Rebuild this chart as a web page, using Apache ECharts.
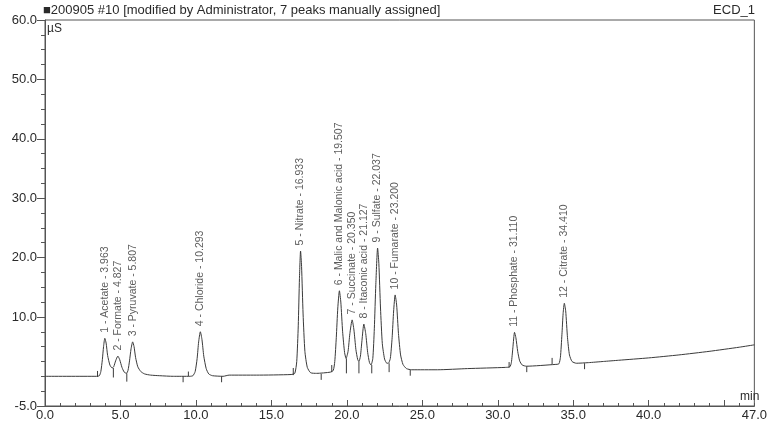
<!DOCTYPE html>
<html>
<head>
<meta charset="utf-8">
<title>ECD_1 chromatogram</title>
<script src="https://cdn.jsdelivr.net/npm/echarts@6/dist/echarts.min.js"></script>
<style>
  html, body { margin: 0; padding: 0; background: #fff; }
  #chart { width: 770px; height: 422px; }
</style>
</head>
<body>
<div id="chart"></div>
<script>
// Peak table: assigned components, retention times (min) and apex heights (µS)
const peakNames = ['Acetate', 'Formate', 'Pyruvate', 'Chloride', 'Nitrate',
  'Malic and Malonic acid', 'Succinate', 'Itaconic acid', 'Sulfate', 'Fumarate',
  'Phosphate', 'Citrate'];
const peakTimes = [3.963, 4.827, 5.807, 10.293, 16.933, 19.507, 20.350, 21.127,
  22.037, 23.200, 31.110, 34.410];
const peakHeights = [6.4, 3.4, 5.8, 7.5, 21.1, 14.4, 9.5, 8.8, 21.6, 13.7, 7.4, 12.3];

// Detector signal [time (min), conductivity (µS)], apex points come from the peak table
const tracePoints = [
  [0, 0], [3.4, 0],
  [3.6, 0.1], [3.7, 0.8], [3.8, 2.8], [3.88, 5.0], [4.05, 5.6], [4.15, 3.5], [4.3, 1.9], [4.45, 1.4],
  [4.55, 1.6], [4.68, 2.6], [4.95, 2.8], [5.1, 1.5], [5.25, 0.7], [5.4, 0.5],
  [5.5, 1.0], [5.6, 2.6], [5.7, 4.6], [5.9, 5.0], [6.0, 3.2], [6.15, 1.6], [6.35, 0.8], [6.6, 0.4],
  [7.0, 0.2], [7.6, 0.1], [8.5, 0], [9.6, 0],
  [9.8, 0.1], [9.95, 0.8], [10.08, 3.0], [10.18, 5.8], [10.4, 6.2], [10.52, 3.4], [10.68, 1.3],
  [10.85, 0.4], [11.1, 0.1], [11.8, 0], [12.2, 0.2], [14, 0.2], [16.3, 0.3],
  [16.55, 0.5], [16.68, 2.5], [16.78, 8.5], [16.86, 16.5], [17.0, 18.5], [17.1, 10.5], [17.22, 4.2],
  [17.38, 1.5], [17.6, 0.6], [18, 0.5], [18.9, 0.7],
  [19.1, 1.0], [19.2, 2.5], [19.3, 6.5], [19.4, 11.5], [19.6, 12.5], [19.72, 7.5], [19.85, 4.0], [19.95, 3.0],
  [20.08, 4.2], [20.2, 7.2], [20.47, 7.8], [20.6, 4.5], [20.72, 2.8], [20.8, 2.5],
  [20.9, 3.4], [21.0, 6.0], [21.25, 7.2], [21.38, 4.0], [21.5, 2.3], [21.6, 1.9],
  [21.72, 3.0], [21.82, 8.0], [21.92, 15.5], [22.12, 19.0], [22.23, 11.5], [22.35, 5.5], [22.5, 2.9],
  [22.65, 2.2], [22.75, 2.2],
  [22.88, 3.0], [23.0, 6.5], [23.1, 11.0], [23.3, 12.0], [23.42, 7.2], [23.56, 3.6], [23.72, 2.0],
  [23.95, 1.3], [24.3, 1.1], [26, 1.1], [28, 1.3], [30.5, 1.5],
  [30.8, 1.6], [30.9, 2.3], [31.0, 4.8], [31.2, 6.5], [31.32, 4.2], [31.45, 2.6], [31.62, 1.9],
  [31.9, 1.7], [33.8, 2.0],
  [34.05, 2.1], [34.15, 3.2], [34.25, 7.0], [34.33, 10.6], [34.5, 11.0], [34.62, 6.5], [34.75, 3.6],
  [34.92, 2.5], [35.2, 2.2], [36, 2.3], [37, 2.5], [38, 2.7], [40, 3.1], [42, 3.6], [44, 4.2],
  [46, 4.9], [47, 5.3]
];

// Integration delimiters: [time, from µS, to µS]
const delimiters = [
  [3.48, 0.9, -0.1], [4.53, 1.4, -0.2], [5.42, 0.5, -0.9], [9.15, 0, -1.0], [9.5, 0.8, 0],
  [11.7, 0, -1.0], [16.45, 1.4, 0.2], [18.3, 0.4, -0.6], [19.0, 1.9, 0.7], [19.97, 3.0, 0.5],
  [20.8, 2.5, 0.5], [21.65, 1.9, 0.5], [22.8, 2.2, 0.7], [24.2, 1.1, 0.1], [30.75, 2.4, 1.5],
  [31.92, 1.7, 0.7], [33.6, 3.1, 2.0], [35.75, 2.2, 1.2]
];

// Axis tick labels
const xLabels = [0, 5, 10, 15, 20, 25, 30, 35, 40, 47];
const yLabels = [-5, 10, 20, 30, 40, 50, 60];

const FONT = '"Liberation Sans", Arial, sans-serif';
const INK = '#2a2a2a';

const apexes = peakTimes.map((t, i) => [t, peakHeights[i]]);
const trace = tracePoints.concat(apexes).sort((a, b) => a[0] - b[0]);

const range = (a, b, step) => {
  const out = [];
  for (let v = a; v <= b + 1e-9; v += step) out.push(+v.toFixed(3));
  return out;
};

const chart = echarts.init(document.getElementById('chart'), null, { renderer: 'canvas' });

chart.setOption({
  animation: false,
  backgroundColor: '#fff',
  textStyle: { fontFamily: FONT },
  title: [
    { text: '■200905 #10 [modified by Administrator, 7 peaks manually assigned]',
      left: 43, top: 4, padding: 0,
      textStyle: { fontSize: 13, fontWeight: 'normal', color: INK, fontFamily: FONT } },
    { text: 'ECD_1', right: 15, top: 4, padding: 0,
      textStyle: { fontSize: 13, fontWeight: 'normal', color: INK, fontFamily: FONT } },
    { text: 'µS', left: 47, top: 23, padding: 0,
      textStyle: { fontSize: 12, fontWeight: 'normal', color: INK, fontFamily: FONT } },
    { text: 'min', left: 740, top: 391, padding: 0,
      textStyle: { fontSize: 12, fontWeight: 'normal', color: INK, fontFamily: FONT } }
  ],
  grid: {
    left: 45, right: 10, top: 20, bottom: 16,
    show: true, borderColor: '#555', borderWidth: 1, backgroundColor: 'transparent'
  },
  xAxis: [
    {
      type: 'value', min: 0, max: 47, position: 'bottom',
      axisLine: { show: true, onZero: false, lineStyle: { color: '#555', width: 1 } },
      axisTick: { show: true, inside: true, length: 6, customValues: range(0, 45, 5),
        lineStyle: { color: '#555' } },
      axisLabel: { show: true, margin: 3, fontSize: 13, color: INK, fontFamily: FONT,
        customValues: xLabels, formatter: v => v.toFixed(1) },
      splitLine: { show: false }
    },
    {
      type: 'value', min: 0, max: 47, position: 'bottom',
      axisLine: { show: false, onZero: false },
      axisTick: { show: true, inside: true, length: 3, customValues: range(0, 47, 1),
        lineStyle: { color: '#555' } },
      axisLabel: { show: false },
      splitLine: { show: false }
    }
  ],
  yAxis: [
    {
      type: 'value', min: -5, max: 60, position: 'left',
      axisLine: { show: true, onZero: false, lineStyle: { color: '#555', width: 1 } },
      axisTick: { show: true, inside: false, length: 8, customValues: yLabels,
        lineStyle: { color: '#555' } },
      axisLabel: { show: true, margin: 8, fontSize: 13, color: INK, fontFamily: FONT,
        customValues: yLabels, formatter: v => v.toFixed(1) },
      splitLine: { show: false }
    },
    {
      type: 'value', min: -5, max: 60, position: 'left',
      axisLine: { show: false, onZero: false },
      axisTick: { show: true, inside: false, length: 4, customValues: range(-5, 60, 2.5),
        lineStyle: { color: '#555' } },
      axisLabel: { show: false },
      splitLine: { show: false }
    }
  ],
  series: [
    {
      name: 'ECD_1',
      type: 'line',
      data: trace,
      smooth: 0.2,
      symbol: 'none',
      clip: false,
      lineStyle: { color: '#3a3a3a', width: 1 },
      z: 3
    },
    {
      name: 'delimiters',
      type: 'custom',
      data: delimiters,
      encode: { x: 0, y: [1, 2] },
      renderItem: (params, api) => {
        const p1 = api.coord([api.value(0), api.value(1)]);
        const p2 = api.coord([api.value(0), api.value(2)]);
        return {
          type: 'line',
          shape: { x1: p1[0], y1: p1[1], x2: p2[0], y2: p2[1] },
          style: { stroke: '#3a3a3a', lineWidth: 1 }
        };
      },
      z: 4
    },
    {
      name: 'peaks',
      type: 'scatter',
      data: apexes.map((p, i) => ({ value: p, name: peakNames[i] })),
      symbolSize: 1,
      itemStyle: { color: 'rgba(0,0,0,0)' },
      label: {
        show: true,
        position: 'top',
        distance: 5,
        rotate: 90,
        align: 'left',
        verticalAlign: 'middle',
        fontSize: 10.5,
        fontFamily: FONT,
        color: '#333',
        formatter: p => (p.dataIndex + 1) + ' - ' + p.name + ' - ' + peakTimes[p.dataIndex].toFixed(3)
      },
      z: 5
    }
  ]
});
</script>
</body>
</html>
